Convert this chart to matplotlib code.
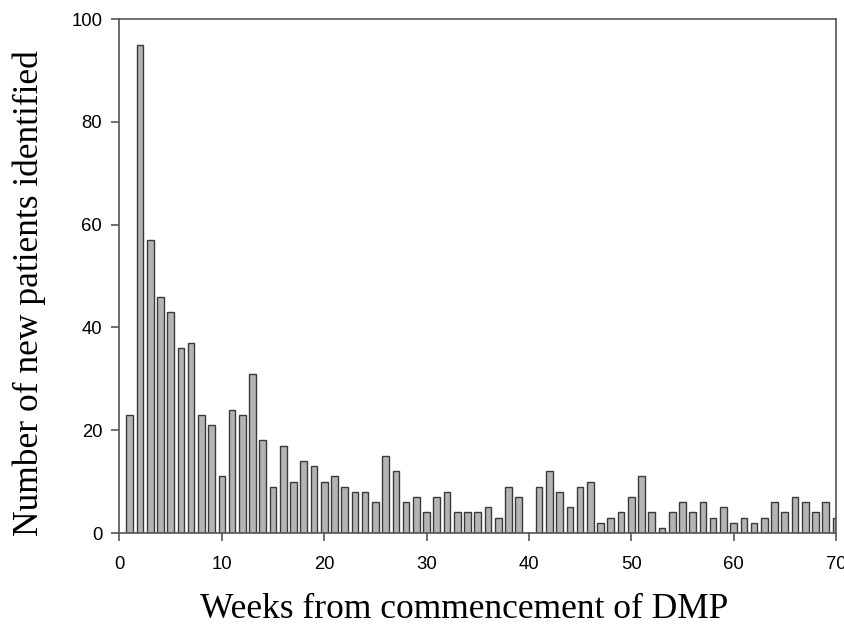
import matplotlib
matplotlib.use("Agg")
import matplotlib.pyplot as plt
import numpy as np

weeks = list(range(1, 71))
new_patients = [23, 95, 57, 46, 43, 36, 37, 23, 21, 11,
                24, 23, 31, 18, 9, 17, 10, 14, 13, 10,
                11, 9, 8, 8, 6, 15, 12, 6, 7, 4,
                7, 8, 4, 4, 4, 5, 3, 9, 7, 0,
                9, 12, 8, 5, 9, 10, 2, 3, 4, 7,
                11, 4, 1, 4, 6, 4, 6, 3, 5, 2,
                3, 2, 3, 6, 4, 7, 6, 4, 6, 3]
x_ticks = [0, 10, 20, 30, 40, 50, 60, 70]
y_ticks = [0, 20, 40, 60, 80, 100]

fig = plt.figure(figsize=(8.45, 6.27), dpi=100)
ax = fig.add_axes([119.5/845, 1-533/627, (836-119.5)/845, (533-19)/627])

ax.bar(weeks, new_patients, width=0.65, color="#b4b4b4", edgecolor="#3a3a3a", linewidth=1.0)
ax.set_xlim(0, 70)
ax.set_ylim(0, 100)
ax.set_xticks(x_ticks)
ax.set_yticks(y_ticks)
for s in ax.spines.values():
    s.set_color("#555555")
    s.set_linewidth(1.2)
ax.tick_params(direction="out", length=5.5, width=1.2, color="#555555",
               labelsize=13.3)
ax.tick_params(axis="x", pad=11)
ax.tick_params(axis="y", pad=7)
for lab in ax.get_xticklabels() + ax.get_yticklabels():
    lab.set_family(["Liberation Sans", "DejaVu Sans"])

fig.text(464.5/845, 1-618/627, "Weeks from commencement of DMP", ha="center", va="baseline",
         fontsize=25.5, family=["Liberation Serif", "DejaVu Serif"])
fig.text(13/845, 1-293/627, "Number of new patients identified", ha="left", va="center",
         rotation=90, fontsize=25.5, family=["Liberation Serif", "DejaVu Serif"])

fig.savefig("out.png", dpi=100)
